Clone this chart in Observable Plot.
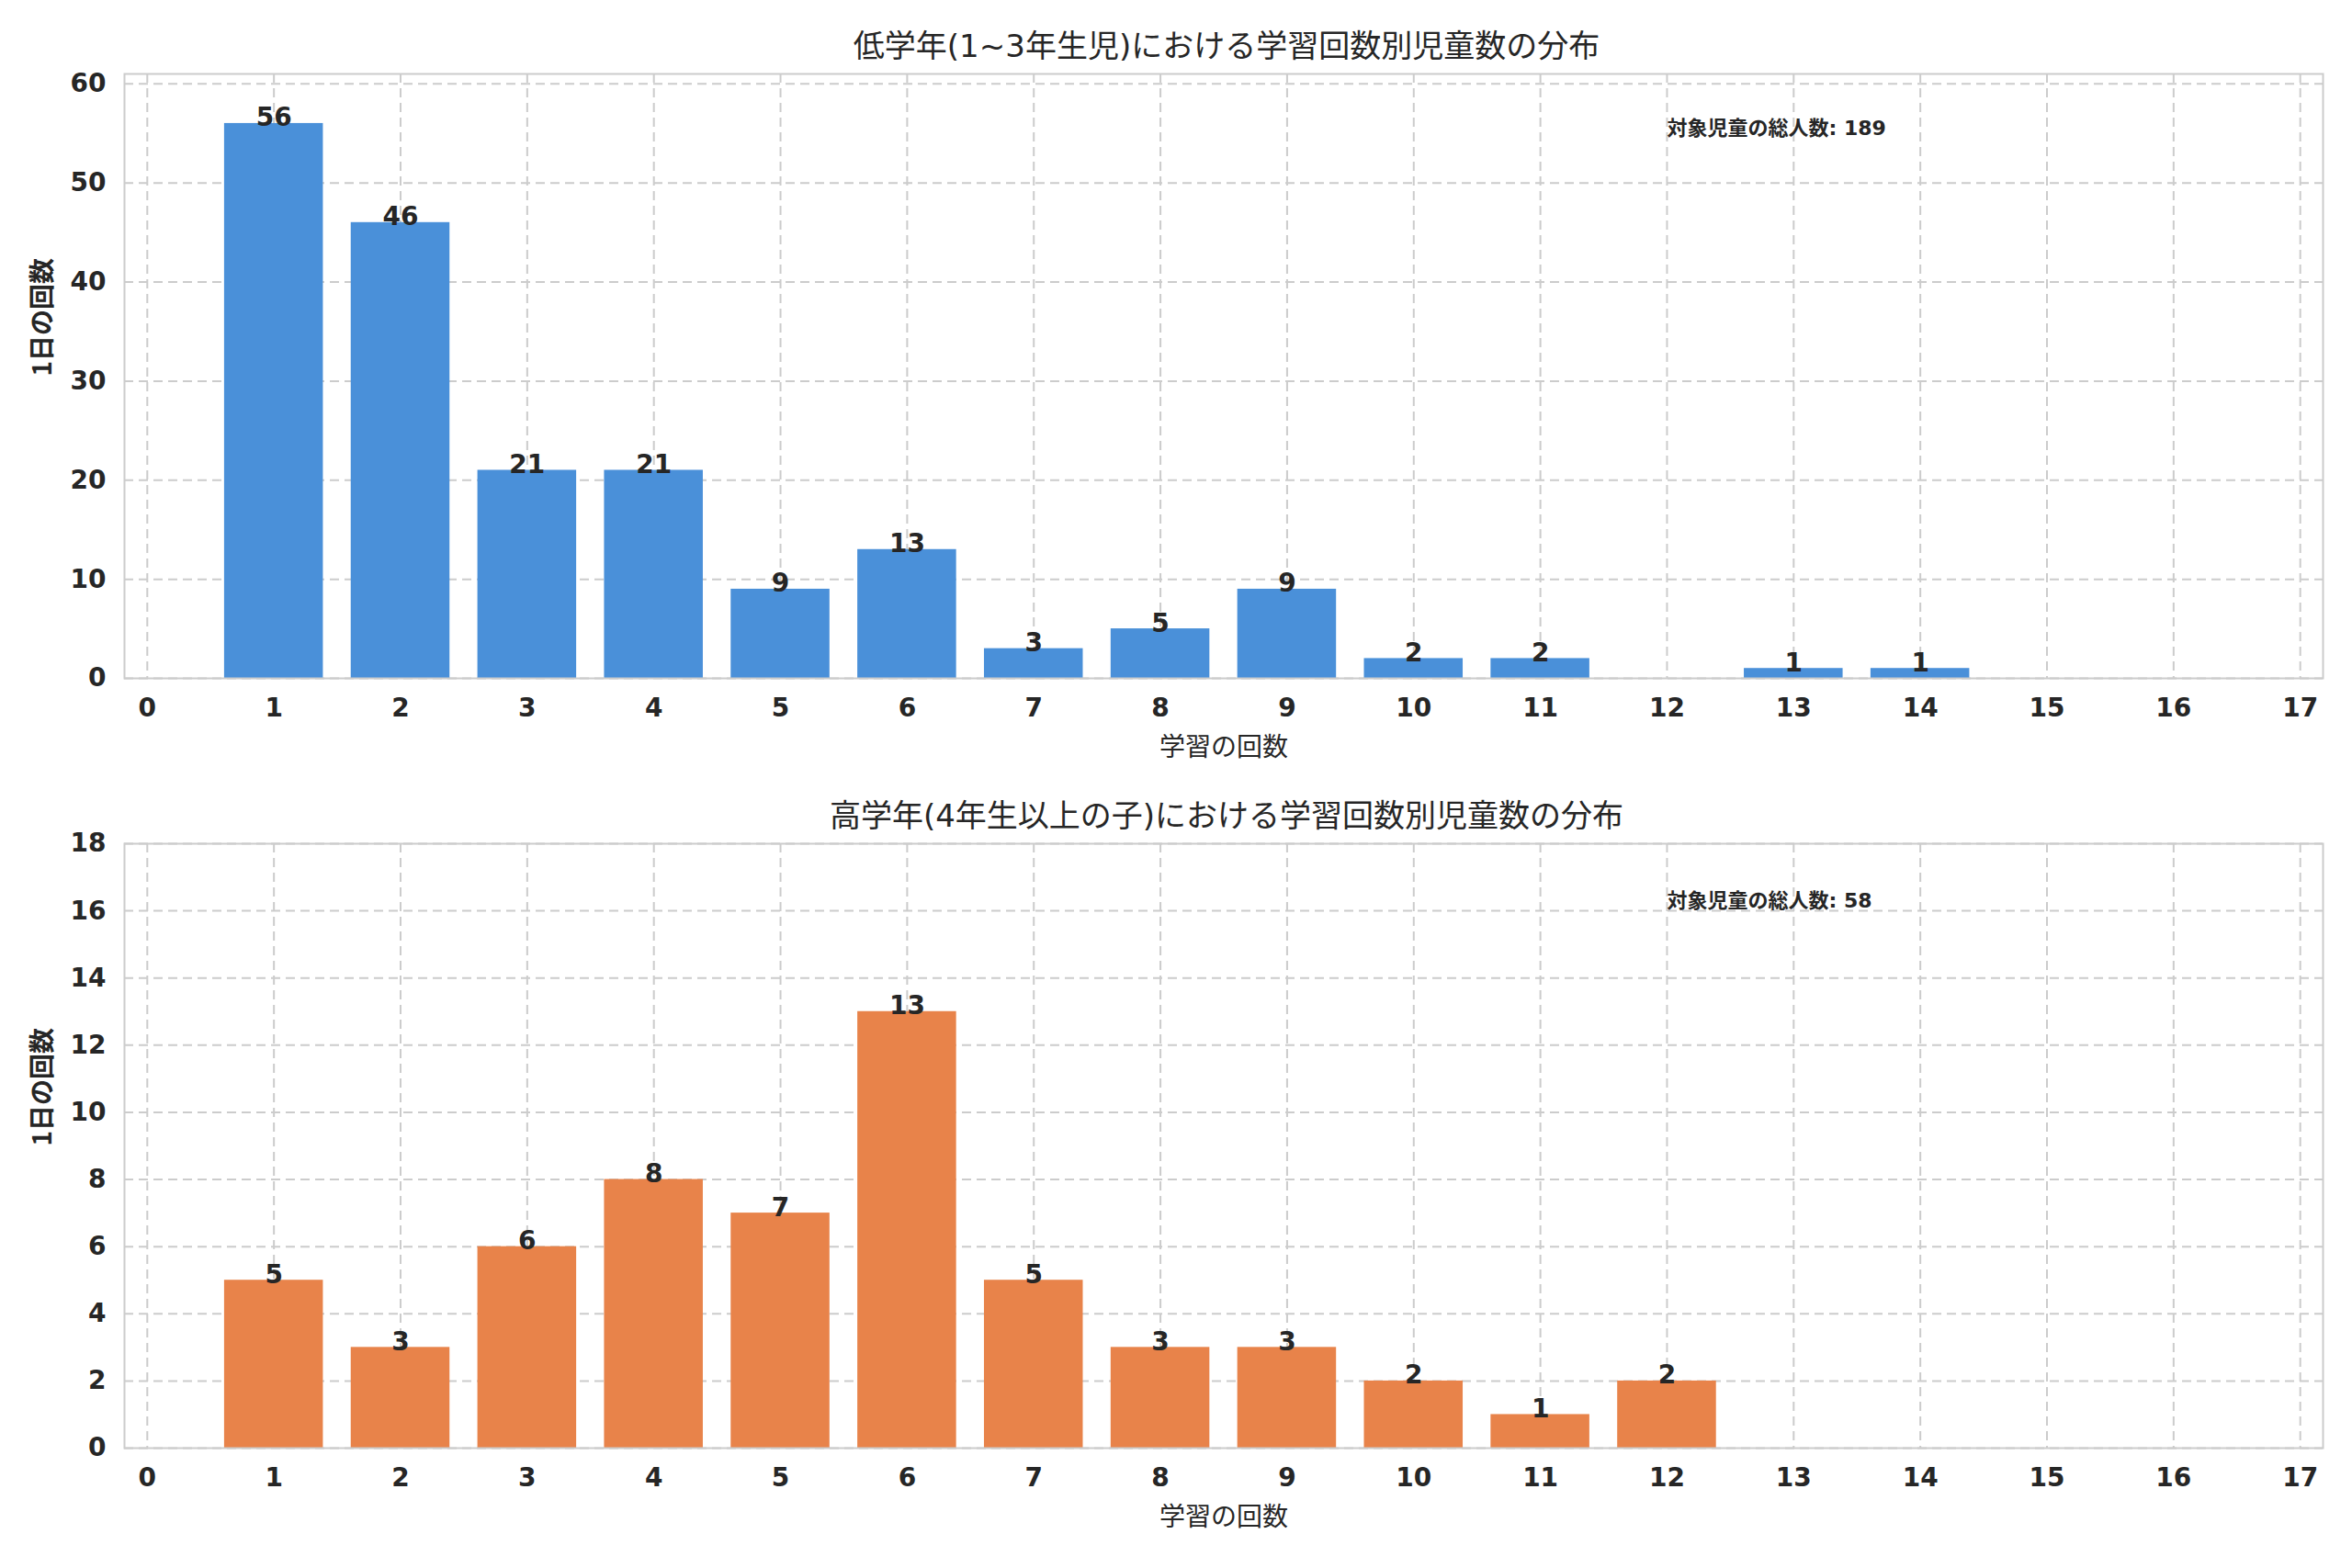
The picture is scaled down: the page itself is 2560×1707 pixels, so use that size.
<!DOCTYPE html>
<html><head><meta charset="utf-8">
<script src="https://cdn.jsdelivr.net/npm/d3@7"></script>
<script src="https://cdn.jsdelivr.net/npm/@observablehq/plot@0.6"></script>
<style>
body{margin:0;background:#fff;font-family:"DejaVu Sans","Noto Sans CJK JP",sans-serif;color:#262626}
.t{width:2560px;text-align:center;font-size:34px;padding-left:110px;box-sizing:border-box;font-family:"DejaVu Sans","Noto Sans CJK JP";}
</style></head><body>
<div id="root"></div>
<script>
const titles = ["低学年(1~3年生児)における学習回数別児童数の分布", "高学年(4年生以上の子)における学習回数別児童数の分布"];
const xLabel = "学習の回数";
const yLabel = "1日の回数";
const noteLabel = "対象児童の総人数";
const xTicks = d3.range(0, 18);
const lowX = [1,2,3,4,5,6,7,8,9,10,11,13,14];
const lowY = [56,46,21,21,9,13,3,5,9,2,2,1,1];
const highX = [1,2,3,4,5,6,7,8,9,10,11,12];
const highY = [5,3,6,8,7,13,5,3,3,2,1,2];
const yTicksLow = [0,10,20,30,40,50,60];
const yTicksHigh = [0,2,4,6,8,10,12,14,16,18];

function panel(title, xs, ys, color, yMax, yTicks, noteY) {
  const data = xs.map((x,i)=>({x, y: ys[i]}));
  const total = d3.sum(ys);
  const t = document.createElement("div");
  t.className = "t"; t.textContent = title;
  t.style.height = "62px"; t.style.lineHeight = "100px";
  document.getElementById("root").appendChild(t);
  const p = Plot.plot({
    width: 2560, height: 776,
    marginLeft: 135, marginRight: 32, marginTop: 18, marginBottom: 100,
    style: {fontFamily: "DejaVu Sans, Noto Sans CJK JP", fontSize: "28px", fontWeight: "bold", color: "#262626", overflow: "visible"},
    x: {domain: [-0.18, 17.18], ticks: xTicks, tickFormat: d=>String(d), tickSize: 0, tickPadding: 22, label: null},
    y: {domain: [0, yMax], ticks: yTicks, tickSize: 0, tickPadding: 20, label: null},
    marks: [
      Plot.gridX(xTicks, {stroke: "#cccccc", strokeOpacity: 1, strokeDasharray: "10,6", strokeWidth: 2}),
      Plot.gridY(yTicks, {stroke: "#cccccc", strokeOpacity: 1, strokeDasharray: "10,6", strokeWidth: 2}),
      Plot.rectY(data, {x1: d=>d.x-0.39, x2: d=>d.x+0.39, y: "y", fill: color}),
      Plot.text(data, {x: "x", y: "y", text: d=>String(d.y), lineAnchor: "bottom", dy: 3, fontSize: 28, fontWeight: "bold", fill: "#262626"}),
      Plot.text([noteLabel + ": " + total], {x: 12, y: noteY, text: d=>d, textAnchor: "start", fontSize: 22, fontWeight: "bold", fill: "#262626"}),
      Plot.frame({stroke: "#cccccc", strokeWidth: 2}),
      Plot.axisX({ticks: xTicks, tickSize: 0, tickPadding: 22, label: null, tickFormat: d=>String(d)}),
      Plot.axisY({ticks: yTicks, tickSize: 0, tickPadding: 20, label: null}),
      Plot.text([xLabel], {frameAnchor: "bottom", dy: 84, text: d=>d, fontSize: 28, fontWeight: "normal", fill: "#262626", fontFamily: "Noto Sans CJK JP"}),
      Plot.text([yLabel], {frameAnchor: "left", dx: -88, rotate: -90, text: d=>d, fontSize: 28, fontWeight: "bold", fill: "#262626", fontFamily: "Noto Sans CJK JP"})
    ]
  });
  document.getElementById("root").appendChild(p);
}
panel(titles[0], lowX, lowY, "#4a90d9", 61, yTicksLow, 55.5);
panel(titles[1], highX, highY, "#e8834a", 18, yTicksHigh, 16.3);
</script></body></html>
